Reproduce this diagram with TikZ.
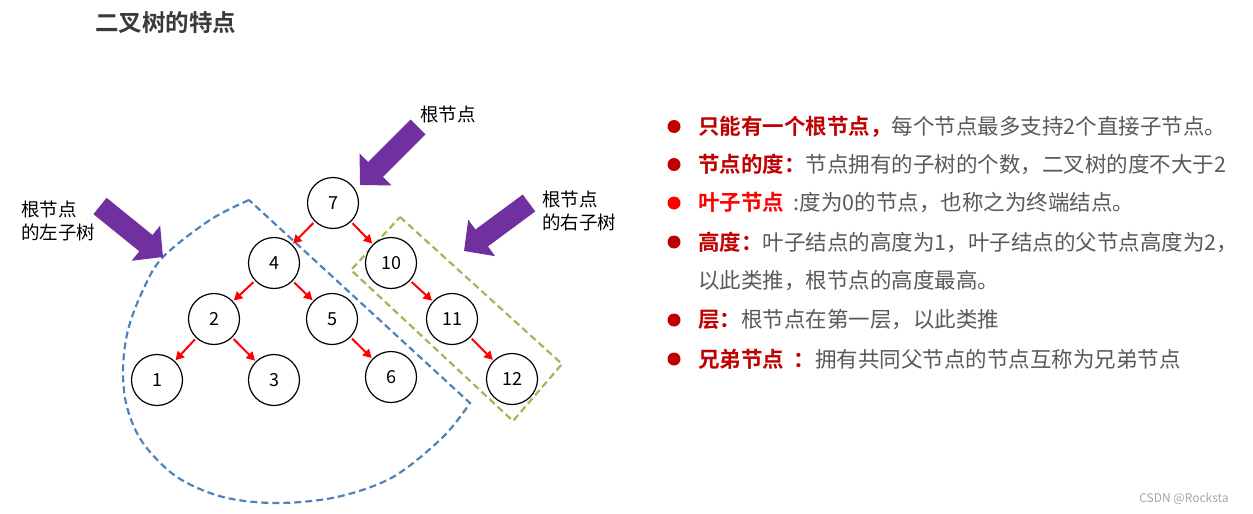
\documentclass[tikz,border=0pt]{standalone}
\usepackage{fontspec}
\setmainfont{Noto Sans CJK SC}[BoldFont={Noto Sans CJK SC Bold}]
\usepackage{tikz}
\usetikzlibrary{arrows.meta}
\definecolor{darkred}{HTML}{C00000}
\definecolor{bodygray}{HTML}{595959}
\definecolor{titlegray}{HTML}{3A3A3A}
\definecolor{arrowpurple}{HTML}{7030A0}
\definecolor{subblue}{HTML}{4F81BD}
\definecolor{subgreen}{HTML}{9BBB59}
\tikzstyle{vertex}=[circle,fill=white,draw,line width=1.2pt,minimum size=51pt,inner sep=0pt,font=\fontsize{18}{20}\selectfont]
\tikzstyle{edge} = [draw,red,line width=2pt,-{Triangle[length=8.5pt,width=9pt]},shorten <=2pt,shorten >=1pt]
\tikzstyle{bigarrow} = [draw,arrowpurple,line width=21pt,-{Triangle[length=22pt,width=44pt]}]
\tikzstyle{tag} = [inner sep=0pt,align=left,font=\fontsize{18.5}{23}\selectfont]
\tikzstyle{bullet} = [circle,minimum size=13pt,inner sep=0pt]
\tikzstyle{listline} = [anchor=west,inner sep=0pt,text=bodygray,font=\fontsize{21.5}{24}\selectfont]

\begin{document}
\begin{tikzpicture}[x=1pt,y=-1pt]
   \useasboundingbox (0,0) rectangle (1253,514);

   \node[anchor=west,inner sep=0pt,text=titlegray,font=\fontsize{23.5}{26}\selectfont\bfseries] (title) at (95,23) {二叉树的特点};

   \draw[subblue,line width=2.2pt,dash pattern=on 7pt off 4pt] plot[smooth,tension=0.55] coordinates {(249,200) (210,220) (163,257) (143,290) (128,330) (123,370) (127,407) (143,443) (177,477) (223,497) (277,503) (337,497) (393,477) (443,437) (470,403)} -- cycle;
   \draw[subgreen,line width=2.2pt,dash pattern=on 7pt off 4pt] (400,217) -- (562,364) -- (513,421) -- (351,270) -- cycle;

    \foreach \pos/\name in {{(333,203)/7}, {(274,263)/4}, {(391,263)/10}, {(214,319)/2}, {(332,319)/5}, {(452,319)/11}, {(157,380)/1}, {(274,380)/3}, {(391,377)/6}, {(512,379)/12}}
        \node[vertex] (v\name) at \pos {\name};

    \foreach \source/\dest in {7/4, 7/10, 4/2, 4/5, 10/11, 2/1, 2/3, 5/6, 11/12}
            \path[edge] (v\source) -- (v\dest);

   \coordinate (roottail) at (418,127);
   \coordinate (roottip) at (360,185);
   \coordinate (lefttail) at (100,206);
   \coordinate (lefttip) at (163,257);
   \coordinate (righttail) at (529,203);
   \coordinate (righttip) at (464,251);
   \draw[bigarrow] (roottail) -- (roottip);
   \draw[bigarrow] (lefttail) -- (lefttip);
   \draw[bigarrow] (righttail) -- (righttip);

   \node[tag] (rootlbl) at (448,114.5) {根节点};
   \node[tag,anchor=west] (leftlbl) at (21,221) {根节点\\的左子树};
   \node[tag,anchor=west] (rightlbl) at (542,211) {根节点\\的右子树};

    \foreach \y/\col/\name in {126.5/darkred/b1, 164.5/darkred/b2, 203/red/b3, 242/darkred/b4, 320/darkred/b6, 359/darkred/b7}
        \node[bullet,fill=\col] (\name) at (674,\y) {};

   \node[listline] (t1) at (698,126.5) {\textcolor{darkred}{\bfseries 只能有一个根节点，}每个节点最多支持2个直接子节点。};
   \node[listline] (t2) at (698,164.5) {\textcolor{darkred}{\bfseries 节点的度：}节点拥有的子树的个数，二叉树的度不大于2};
   \node[listline] (t3) at (698,203) {\textcolor{red}{\bfseries 叶子节点}\hspace{0.45em}:度为0的节点，也称之为终端结点。};
   \node[listline] (t4) at (698,242) {\textcolor{darkred}{\bfseries 高度：}叶子结点的高度为1，叶子结点的父节点高度为2，};
   \node[listline] (t5) at (698,281) {以此类推，根节点的高度最高。};
   \node[listline] (t6) at (698,320) {\textcolor{darkred}{\bfseries 层：}根节点在第一层，以此类推};
   \node[listline] (t7) at (698,359) {\textcolor{darkred}{\bfseries 兄弟节点\hspace{0.45em}：}拥有共同父节点的节点互称为兄弟节点};

   \node[text=gray!70,font=\fontsize{12}{14}\selectfont] (mark) at (1184,499) {CSDN @Rocksta};

\end{tikzpicture}
\end{document}
